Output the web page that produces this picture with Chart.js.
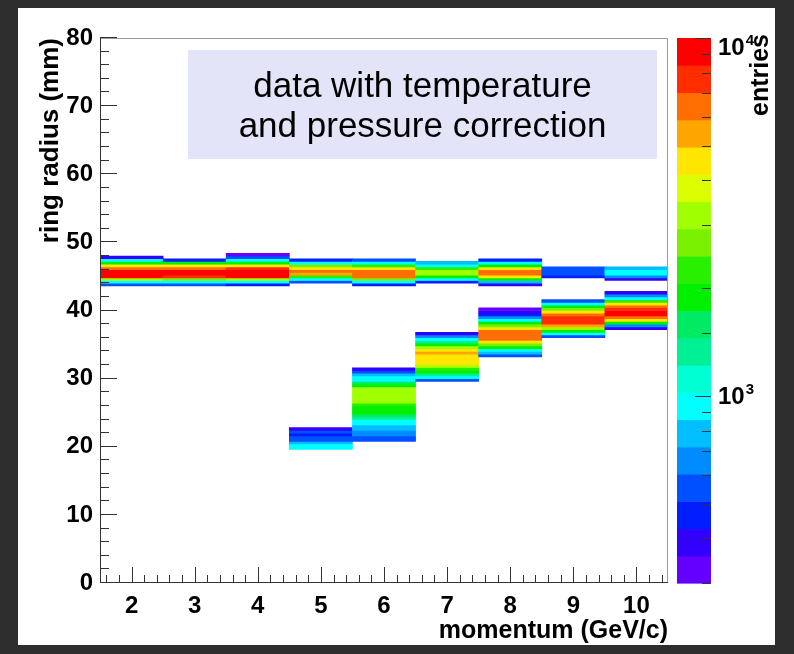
<!DOCTYPE html>
<html>
<head>
<meta charset="utf-8">
<script src="https://cdn.jsdelivr.net/npm/chart.js@4.4.0/dist/chart.umd.min.js"></script>
<style>
  html, body { margin: 0; padding: 0; background: #2e2e2e; }
  canvas { display: block; }
</style>
</head>
<body>
<canvas id="ringChart" width="794" height="654"></canvas>
<script>
// momentum bins (GeV/c), one column each
const momentum = [2, 3, 4, 5, 6, 7, 8, 9, 10];
const radiusBin = 0.4; // mm, height of one ring radius bin

// upper band (ring ~46 mm): lowest filled bin edge, then counts from low to high radius
const upperStart = [43.6, 43.6, 43.6, 44.0, 43.6, 44.0, 43.6, 44.8, 44.4];
const upperCounts = [
  [560, 940, 3100, 9400, 9900, 9300, 6500, 4400, 1850, 920, 400],
  [540, 930, 2800, 8100, 9600, 9400, 6400, 4500, 1900, 470],
  [480, 960, 3300, 9300, 9900, 9500, 7600, 4300, 1800, 930, 560, 330],
  [560, 940, 2200, 5600, 6200, 4700, 2800, 960, 480],
  [470, 950, 2700, 6400, 6900, 6700, 4600, 2300, 960, 560],
  [450, 950, 1850, 3200, 3300, 2300, 960, 780],
  [400, 780, 1800, 4500, 6300, 6100, 4400, 1900, 950, 480],
  [470, 520, 580, 560],
  [400, 650, 950, 980, 800]
];

// lower band (rising ring), only from 5 GeV/c on
const lowerMomentum = [5, 6, 7, 8, 9, 10];
const lowerStart = [19.6, 20.8, 29.6, 33.2, 36.0, 37.2];
const lowerCounts = [
  [950, 930, 780, 570, 540, 460, 560, 380],
  [560, 580, 640, 690, 780, 830, 940, 1000, 1300, 1550, 1800, 1950, 2000, 2300,
   3000, 3200, 3300, 3150, 3050, 2950, 2000, 1500, 950, 930, 800, 600, 390],
  [560, 950, 1350, 1800, 2200, 3200, 4400, 4600, 4700, 4800, 5500, 4300, 3100, 1900, 1350, 940, 640, 380],
  [560, 800, 950, 1800, 2700, 4500, 6200, 6700, 6900, 6500, 4600, 2700, 1800, 950, 680, 480, 390, 340],
  [560, 950, 1850, 3100, 5300, 7300, 7900, 8100, 6600, 4600, 2700, 1800, 940, 540],
  [400, 650, 1850, 4400, 6500, 9200, 9600, 8000, 6400, 4500, 2100, 950, 650, 400]
];

// z (entries) axis range, log scale
const zRange = [300, 10000];

const captionLines = ['data with temperature', 'and pressure correction'];

// ROOT style rainbow palette, lowest level first
const palette = [
  '#6400ff', '#3200ff', '#001eff', '#0050ff', '#008cff',
  '#00beff', '#00ffff', '#00ffd2', '#00f096', '#00eb64',
  '#00f000', '#28f000', '#78f000', '#a0ff00', '#dcff00',
  '#ffe600', '#ffa500', '#ff6e00', '#ff2d00', '#ff0000'
];

const FONT = '"Liberation Sans", Arial, Helvetica, sans-serif';
Chart.defaults.font.family = FONT;
Chart.defaults.color = '#000';

function colourFor(z) {
  if (!z || z < zRange[0]) return 'rgba(0,0,0,0)';
  const f = Math.log(z / zRange[0]) / Math.log(zRange[1] / zRange[0]);
  const k = Math.min(palette.length - 1, Math.floor(f * palette.length));
  return palette[k];
}

const cells = [];
function addBand(p, start, counts) {
  counts.forEach(function(z, j) {
    const lo = +(start + j * radiusBin).toFixed(2);
    cells.push({ x: p, y: [lo, +(lo + radiusBin).toFixed(2)], z: z });
  });
}
momentum.forEach(function(p, i) { addBand(p, upperStart[i], upperCounts[i]); });
lowerMomentum.forEach(function(p, i) { addBand(p, lowerStart[i], lowerCounts[i]); });

const isDecade = function(v) {
  const l = Math.log10(v);
  return Math.abs(l - Math.round(l)) < 1e-6;
};

const rootFrame = {
  id: 'rootFrame',
  beforeDraw(chart) {
    const ctx = chart.ctx;
    const a = chart.chartArea;
    ctx.save();
    ctx.fillStyle = '#2e2e2e';
    ctx.fillRect(0, 0, chart.width, chart.height);
    ctx.fillStyle = '#ffffff';
    ctx.fillRect(18, 8, 757, 637);

    // caption pave
    ctx.fillStyle = '#e4e4f9';
    ctx.fillRect(a.left + 88, a.top + 12, 469, 109);
    ctx.fillStyle = '#000';
    ctx.font = '35px ' + FONT;
    ctx.textAlign = 'center';
    ctx.textBaseline = 'alphabetic';
    const cx = a.left + 88 + 469 / 2;
    captionLines.forEach(function(t, i) { ctx.fillText(t, cx, a.top + 59 + i * 40); });
    ctx.restore();
  },
  afterDatasetsDraw(chart) {
    const ctx = chart.ctx;
    const a = chart.chartArea;
    const xs = chart.scales.x, ys = chart.scales.y, zs = chart.scales.z;
    ctx.save();
    ctx.lineWidth = 1;

    // frame
    ctx.strokeStyle = '#9a9a9a';
    ctx.strokeRect(a.left + 0.5, a.top + 0.5, a.right - a.left - 1, a.bottom - a.top - 1);

    // axis lines and inner ticks
    ctx.strokeStyle = '#333';
    ctx.beginPath();
    ctx.moveTo(a.left + 0.5, a.top);
    ctx.lineTo(a.left + 0.5, a.bottom - 0.5);
    ctx.lineTo(a.right, a.bottom - 0.5);
    for (let k = 8; k <= 52; k++) {
      const px = Math.round(xs.getPixelForValue(k / 5)) + 0.5;
      const len = k % 5 === 0 ? 16 : 8;
      ctx.moveTo(px, a.bottom);
      ctx.lineTo(px, a.bottom - len);
    }
    for (let v = 0; v <= 80; v += 2) {
      const py = Math.round(ys.getPixelForValue(v)) - 0.5;
      const len = v % 10 === 0 ? 17 : 9;
      ctx.moveTo(a.left, py);
      ctx.lineTo(a.left + len, py);
    }
    ctx.stroke();

    // palette (colour bar)
    const bx0 = a.right + 9, bx1 = a.right + 43;
    const lr = Math.log(zRange[1] / zRange[0]);
    palette.forEach(function(c, k) {
      const yLo = zs.getPixelForValue(zRange[0] * Math.exp(lr * k / palette.length));
      const yHi = zs.getPixelForValue(zRange[0] * Math.exp(lr * (k + 1) / palette.length));
      ctx.fillStyle = c;
      ctx.fillRect(bx0, yHi, bx1 - bx0, yLo - yHi + 0.6);
    });
    ctx.strokeStyle = '#333';
    ctx.beginPath();
    zs.ticks.forEach(function(t) {
      const py = Math.round(zs.getPixelForValue(t.value)) + 0.5;
      ctx.moveTo(bx1, py);
      ctx.lineTo(bx1 - (isDecade(t.value) ? 16 : 9), py);
    });
    ctx.stroke();

    // palette labels 10^n
    ctx.fillStyle = '#000';
    ctx.textAlign = 'left';
    ctx.textBaseline = 'alphabetic';
    zs.ticks.filter(function(t) { return isDecade(t.value); }).forEach(function(t) {
      const exp = Math.round(Math.log10(t.value));
      const base = Math.max(zs.getPixelForValue(t.value) + 8, a.top + 17);
      ctx.font = 'bold 24px ' + FONT;
      ctx.fillText('10', bx1 + 7, base);
      const w = ctx.measureText('10').width;
      ctx.font = 'bold 15px ' + FONT;
      ctx.fillText(String(exp), bx1 + 8 + w, base - 10);
    });

    // palette axis title
    ctx.font = 'bold 25px ' + FONT;
    ctx.translate(a.right + 93, 34);
    ctx.rotate(-Math.PI / 2);
    ctx.textAlign = 'right';
    ctx.textBaseline = 'middle';
    ctx.fillText('entries', 0, 0);
    ctx.restore();
  }
};

new Chart(document.getElementById('ringChart'), {
  type: 'bar',
  data: {
    datasets: [{
      label: 'entries',
      data: cells,
      backgroundColor: function(c) { return colourFor(c.raw && c.raw.z); },
      borderWidth: 0,
      grouped: false,
      barPercentage: 1,
      categoryPercentage: 1,
      xAxisID: 'x',
      yAxisID: 'y'
    }]
  },
  options: {
    responsive: false,
    animation: false,
    events: [],
    devicePixelRatio: 1,
    layout: { padding: { left: 0, top: 38, right: 126, bottom: 0 } },
    plugins: { legend: { display: false }, tooltip: { enabled: false } },
    scales: {
      x: {
        type: 'linear',
        min: 1.5,
        max: 10.5,
        offset: false,
        afterBuildTicks: function(s) { s.ticks = momentum.map(function(v) { return { value: v }; }); },
        grid: { display: false, drawTicks: false, offset: false },
        border: { display: false },
        ticks: { font: { size: 24, weight: 'bold' }, color: '#000', padding: 9, maxRotation: 0, autoSkip: false },
        title: {
          display: true, text: 'momentum (GeV/c)', align: 'end', color: '#000',
          font: { size: 25, weight: 'bold' }, padding: { top: 0, bottom: 8 }
        },
        afterFit: function(s) { s.height = 71; }
      },
      y: {
        type: 'linear',
        min: 0,
        max: 80,
        ticks: { stepSize: 10, font: { size: 24, weight: 'bold' }, color: '#000', padding: 7 },
        grid: { display: false, drawTicks: false },
        border: { display: false },
        title: {
          display: true, text: 'ring radius (mm)', align: 'end', color: '#000',
          font: { size: 26, weight: 'bold' }, padding: { top: 35, bottom: 0 }
        },
        afterFit: function(s) { s.width = 100; }
      },
      z: {
        type: 'logarithmic',
        position: 'right',
        min: zRange[0],
        max: zRange[1],
        display: false
      }
    }
  },
  plugins: [rootFrame]
});
</script>
</body>
</html>
